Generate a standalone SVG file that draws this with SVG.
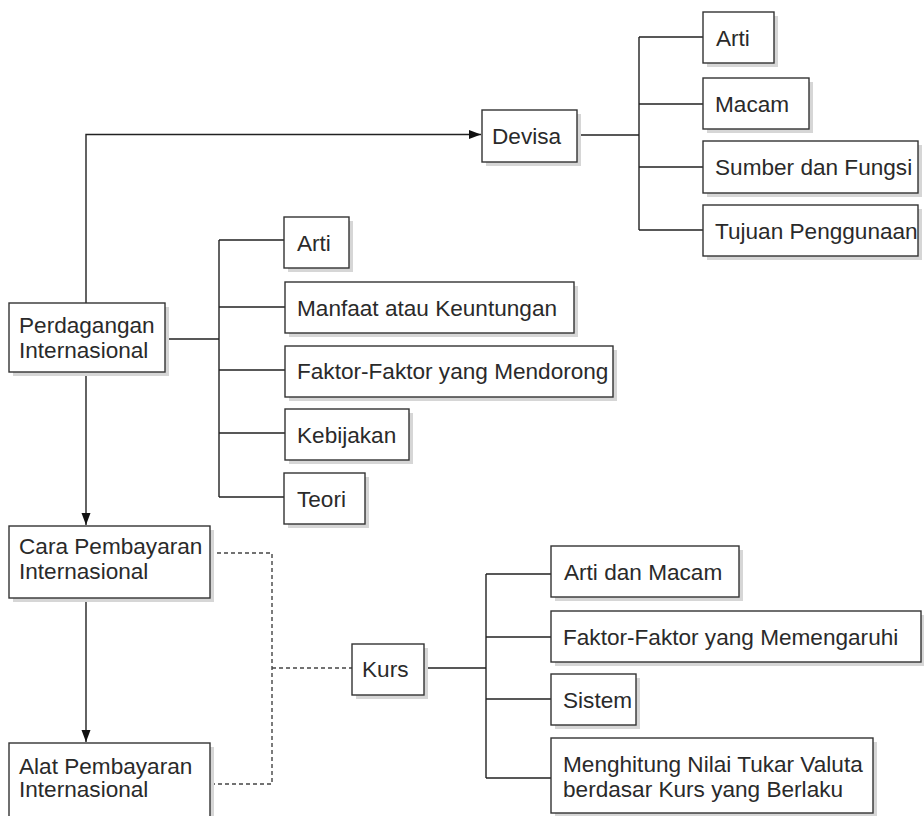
<svg xmlns="http://www.w3.org/2000/svg" width="924" height="816" viewBox="0 0 924 816">
<style>
.sh{fill:#d6d6d6}
.bx{fill:#fff;stroke:#333;stroke-width:1.4}
text{font-family:"Liberation Sans",Arial,sans-serif;font-size:22.6px;fill:#2a2a2a}
.ln{fill:none;stroke:#222;stroke-width:1.4}
.ds{fill:none;stroke:#444;stroke-width:1.4;stroke-dasharray:4 3}
</style>
<defs>
<marker id="ar" viewBox="0 0 12 10" refX="12" refY="5" markerWidth="12" markerHeight="10" markerUnits="userSpaceOnUse" orient="auto">
<path d="M0,0.5 L12,5 L0,9.5 z" fill="#111"/>
</marker>
</defs>
<rect width="924" height="816" fill="#fff"/>
<g id="connectors">
<path class="ln" d="M86,303 V134.5 H481" marker-end="url(#ar)"/>
<path class="ln" d="M86,372 V525" marker-end="url(#ar)"/>
<path class="ln" d="M86,598 V742" marker-end="url(#ar)"/>
<path class="ln" d="M577,135 H639 M639,37 V230 M639,37 H703 M639,104 H703 M639,167 H703 M639,230 H703"/>
<path class="ln" d="M165,339 H219 M219,240 V497 M219,240 H284 M219,307 H285 M219,370 H285 M219,433 H285 M219,497 H284"/>
<path class="ln" d="M424,668 H486 M486,574 V778 M486,574 H551 M486,637 H551 M486,699 H551 M486,778 H551"/>
<path class="ds" d="M210,553 H272 V784 H210 M272,668 H352"/>
</g>
<g id="devisa"><rect class="sh" x="486" y="114" width="95" height="52"/><rect class="bx" x="482" y="110" width="95" height="52"/><text x="492" y="144">Devisa</text></g>
<g id="devisa-arti"><rect class="sh" x="707" y="16" width="71" height="51"/><rect class="bx" x="703" y="12" width="71" height="51"/><text x="716" y="45.5">Arti</text></g>
<g id="devisa-macam"><rect class="sh" x="707" y="82" width="106" height="51"/><rect class="bx" x="703" y="78" width="106" height="51"/><text x="715" y="111.5">Macam</text></g>
<g id="devisa-sumber"><rect class="sh" x="707" y="145" width="215" height="52"/><rect class="bx" x="703" y="141" width="215" height="52"/><text x="715" y="175">Sumber dan Fungsi</text></g>
<g id="devisa-tujuan"><rect class="sh" x="707" y="209" width="215" height="51"/><rect class="bx" x="703" y="205" width="215" height="51"/><text x="715" y="238.5">Tujuan Penggunaan</text></g>
<g id="perdagangan"><rect class="sh" x="13" y="307" width="156" height="69"/><rect class="bx" x="9" y="303" width="156" height="69"/><text x="19" y="333">Perdagangan</text><text x="19" y="357.5">Internasional</text></g>
<g id="p-arti"><rect class="sh" x="288" y="221" width="65" height="51"/><rect class="bx" x="284" y="217" width="65" height="51"/><text x="297" y="250.5">Arti</text></g>
<g id="p-manfaat"><rect class="sh" x="289" y="286" width="289" height="51"/><rect class="bx" x="285" y="282" width="289" height="51"/><text x="297" y="315.5">Manfaat atau Keuntungan</text></g>
<g id="p-faktor"><rect class="sh" x="289" y="350" width="328" height="51"/><rect class="bx" x="285" y="346" width="328" height="51"/><text x="297" y="379">Faktor-Faktor yang Mendorong</text></g>
<g id="p-kebijakan"><rect class="sh" x="289" y="413" width="124" height="51"/><rect class="bx" x="285" y="409" width="124" height="51"/><text x="297" y="442.5">Kebijakan</text></g>
<g id="p-teori"><rect class="sh" x="288" y="477" width="81" height="51"/><rect class="bx" x="284" y="473" width="81" height="51"/><text x="297" y="506.5">Teori</text></g>
<g id="cara"><rect class="sh" x="13" y="530" width="201" height="72"/><rect class="bx" x="9" y="526" width="201" height="72"/><text x="19" y="553.5">Cara Pembayaran</text><text x="19" y="579">Internasional</text></g>
<g id="alat"><rect class="sh" x="13" y="747" width="201" height="76"/><rect class="bx" x="9" y="743" width="201" height="76"/><text x="19" y="773.5">Alat Pembayaran</text><text x="19" y="797">Internasional</text></g>
<g id="kurs"><rect class="sh" x="356" y="648" width="72" height="51"/><rect class="bx" x="352" y="644" width="72" height="51"/><text x="362" y="677">Kurs</text></g>
<g id="k-arti"><rect class="sh" x="555" y="550" width="188" height="51"/><rect class="bx" x="551" y="546" width="188" height="51"/><text x="564" y="579.5">Arti dan Macam</text></g>
<g id="k-faktor"><rect class="sh" x="555" y="615" width="370" height="51"/><rect class="bx" x="551" y="611" width="370" height="51"/><text x="563" y="644.5">Faktor-Faktor yang Memengaruhi</text></g>
<g id="k-sistem"><rect class="sh" x="555" y="678" width="85" height="51"/><rect class="bx" x="551" y="674" width="85" height="51"/><text x="563" y="707.5">Sistem</text></g>
<g id="k-menghitung"><rect class="sh" x="555" y="742" width="322" height="75"/><rect class="bx" x="551" y="738" width="322" height="75"/><text x="563" y="772">Menghitung Nilai Tukar Valuta</text><text x="563" y="796.5">berdasar Kurs yang Berlaku</text></g>
</svg>
